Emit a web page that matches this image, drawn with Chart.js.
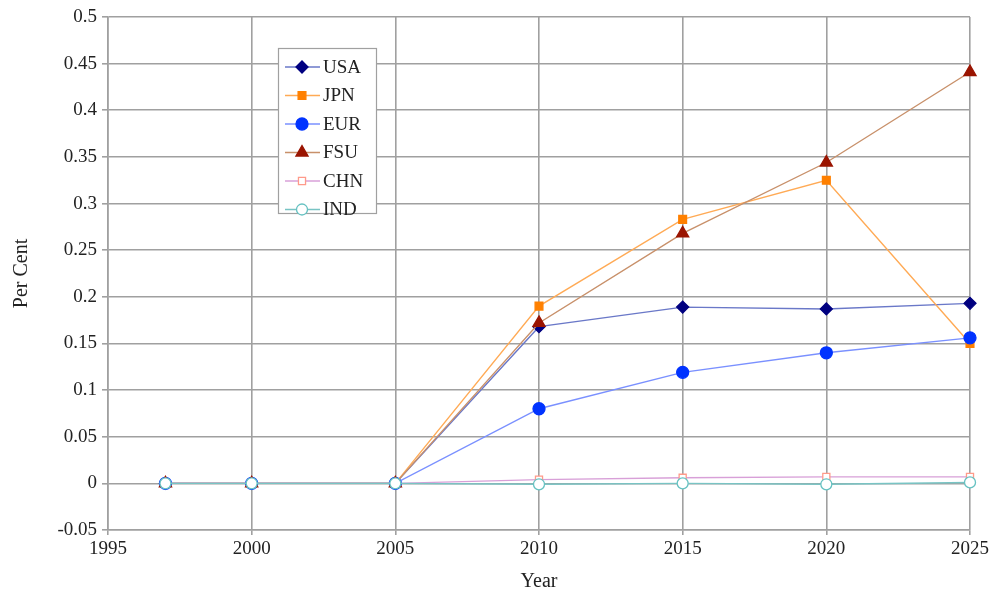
<!DOCTYPE html>
<html>
<head>
<meta charset="utf-8">
<script src="https://cdn.jsdelivr.net/npm/chart.js@4/dist/chart.umd.min.js"></script>
<style>
  html, body { margin: 0; padding: 0; background: #fff; }
  #wrap { width: 994px; height: 597px; }
</style>
</head>
<body>
<div id="wrap"><canvas id="c" width="994" height="597"></canvas></div>
<script>
// Share of each region, per cent, by year
const years = [1997, 2000, 2005, 2010, 2015, 2020, 2025];
const usa = [0, 0, 0, 0.168, 0.189, 0.187, 0.193];
const jpn = [0, 0, 0, 0.190, 0.283, 0.325, 0.150];
const eur = [0, 0, 0, 0.080, 0.119, 0.140, 0.156];
const fsu = [0, 0, 0, 0.172, 0.268, 0.344, 0.441];
const chn = [0, 0, 0, 0.004, 0.006, 0.007, 0.007];
const ind = [0, 0, 0, -0.001, 0, -0.001, 0.001];
const yTickLabels = ['-0.05', '0', '0.05', '0.1', '0.15', '0.2', '0.25', '0.3', '0.35', '0.4', '0.45', '0.5'];
const xTickLabels = ['1995', '2000', '2005', '2010', '2015', '2020', '2025'];

const FONT = '"Liberation Serif", "Times New Roman", serif';

function pts(vals) {
  return years.map((y, i) => ({ x: y, y: vals[i] }));
}

function series(label, vals, line, fill, stroke, style, radius, order) {
  return {
    label,
    data: pts(vals),
    borderColor: line,
    borderWidth: 1.4,
    pointStyle: style,
    pointRadius: radius,
    pointHoverRadius: radius,
    pointBackgroundColor: fill,
    pointBorderColor: stroke,
    pointBorderWidth: 1.3,
    tension: 0,
    clip: false,
    order
  };
}

const datasets = [
  series('USA', usa, '#6a78c8', '#000080', '#000080', 'rectRot', 6, 6),
  series('JPN', jpn, '#ffaa55', '#ff8000', '#ff8000', 'rect', 5.5, 5),
  series('EUR', eur, '#7a90ff', '#0033ff', '#0033ff', 'circle', 6, 4),
  series('FSU', fsu, '#c8906a', '#9a1400', '#9a1400', 'triangle', 7, 3),
  series('CHN', chn, '#d8a0d8', '#ffffff', '#ff9a8a', 'rect', 5, 2),
  series('IND', ind, '#78c4c4', '#ffffff', '#66c2c2', 'circle', 5.5, 1)
];

// Framed legend inside the plot area
const boxLegend = {
  id: 'boxLegend',
  afterDraw(chart) {
    const ctx = chart.ctx;
    const x0 = 278, y0 = 48, w = 98, h = 165;
    ctx.save();
    ctx.fillStyle = '#ffffff';
    ctx.fillRect(x0, y0, w, h);
    ctx.strokeStyle = '#a0a0a0';
    ctx.lineWidth = 1.2;
    ctx.strokeRect(x0 + 0.5, y0 + 0.5, w, h);
    const ds = chart.data.datasets;
    ds.forEach((d, i) => {
      const y = y0 + 19 + i * 28.5;
      ctx.strokeStyle = d.borderColor;
      ctx.lineWidth = 1.4;
      ctx.beginPath();
      ctx.moveTo(285, y);
      ctx.lineTo(320, y);
      ctx.stroke();
      ctx.fillStyle = d.pointBackgroundColor;
      ctx.strokeStyle = d.pointBorderColor;
      ctx.lineWidth = d.pointBorderWidth;
      Chart.helpers.drawPoint(ctx, { pointStyle: d.pointStyle, radius: d.pointRadius, rotation: 0, borderWidth: d.pointBorderWidth }, 302, y);
      ctx.fillStyle = '#222';
      ctx.font = '19px ' + FONT;
      ctx.textBaseline = 'middle';
      ctx.textAlign = 'left';
      ctx.fillText(d.label, 323, y + 1);
    });
    ctx.restore();
  }
};

new Chart(document.getElementById('c'), {
  type: 'line',
  data: { datasets },
  plugins: [boxLegend],
  options: {
    responsive: false,
    animation: false,
    events: [],
    layout: { padding: { top: 17, right: 24, left: 0, bottom: 0 } },
    plugins: { legend: { display: false }, tooltip: { enabled: false } },
    scales: {
      x: {
        type: 'linear',
        min: 1995, max: 2025,
        afterBuildTicks(s) { s.ticks = xTickLabels.map(v => ({ value: Number(v) })); },
        ticks: {
          callback: (v) => xTickLabels.find(t => Number(t) === v) ?? '',
          color: '#222', font: { family: FONT, size: 19 }, padding: 3, maxRotation: 0
        },
        grid: { color: '#a0a0a0', lineWidth: 1.6, tickLength: 5, tickColor: '#a0a0a0' },
        border: { display: true, color: '#a0a0a0', width: 1.6 },
        title: { display: true, text: 'Year', color: '#222', font: { family: FONT, size: 20 }, padding: { top: 1, bottom: 3 } },
        afterFit(s) { s.height = 67; }
      },
      y: {
        type: 'linear',
        min: -0.05, max: 0.5,
        afterBuildTicks(s) { s.ticks = yTickLabels.map(v => ({ value: Number(v) })); },
        ticks: {
          callback: (v) => yTickLabels.find(t => Math.abs(Number(t) - v) < 1e-9) ?? '',
          color: '#222', font: { family: FONT, size: 19 }, padding: 5
        },
        grid: { color: '#a0a0a0', lineWidth: 1.6, tickLength: 6, tickColor: '#a0a0a0' },
        border: { display: true, color: '#a0a0a0', width: 1.6 },
        title: { display: true, text: 'Per Cent', color: '#222', font: { family: FONT, size: 20 }, padding: { top: 10, bottom: 0 } },
        afterFit(s) { s.width = 108; }
      }
    }
  }
});
</script>
</body>
</html>
